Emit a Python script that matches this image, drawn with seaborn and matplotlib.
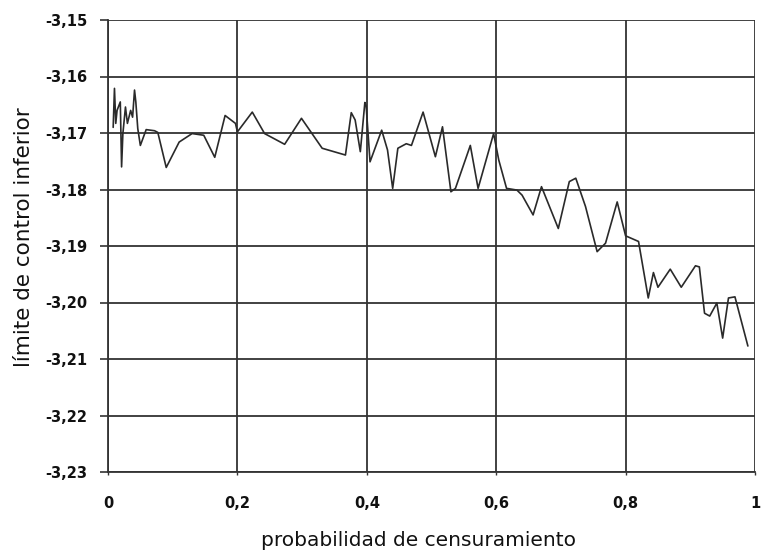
import matplotlib

matplotlib.use("Agg")
import matplotlib.pyplot as plt  # noqa: E402
import pandas as pd  # noqa: E402
import seaborn as sns  # noqa: E402
from matplotlib.ticker import FuncFormatter, MultipleLocator  # noqa: E402

# --- Datos -------------------------------------------------------------------
prob_censura = [
    0.008, 0.010, 0.012, 0.014, 0.019, 0.021, 0.023, 0.027, 0.030, 0.035,
    0.038, 0.041, 0.043, 0.046, 0.050, 0.059, 0.072, 0.077, 0.090, 0.110,
    0.130, 0.148, 0.165, 0.181, 0.197, 0.200, 0.223, 0.242, 0.273, 0.299,
    0.331, 0.367, 0.376, 0.382, 0.390, 0.397, 0.399, 0.405, 0.423, 0.432,
    0.440, 0.448, 0.461, 0.469, 0.487, 0.506, 0.517, 0.530, 0.537, 0.560,
    0.572, 0.596, 0.604, 0.616, 0.632, 0.640, 0.657, 0.670, 0.696, 0.713,
    0.723, 0.738, 0.756, 0.769, 0.787, 0.800, 0.820, 0.835, 0.843, 0.850,
    0.869, 0.886, 0.908, 0.914, 0.922, 0.930, 0.941, 0.950, 0.959, 0.969,
    0.989,
]
limite_inferior = [
    -3.1690, -3.1621, -3.1683, -3.1660, -3.1645, -3.1760, -3.1701, -3.1654,
    -3.1683, -3.1660, -3.1672, -3.1624, -3.1645, -3.1692, -3.1722, -3.1694,
    -3.1696, -3.1699, -3.1761, -3.1716, -3.1701, -3.1704, -3.1743, -3.1669,
    -3.1683, -3.1698, -3.1663, -3.1701, -3.1720, -3.1674, -3.1727, -3.1739,
    -3.1664, -3.1677, -3.1733, -3.1646, -3.1652, -3.1751, -3.1695, -3.1730,
    -3.1798, -3.1727, -3.1719, -3.1722, -3.1663, -3.1742, -3.1689, -3.1804,
    -3.1798, -3.1722, -3.1798, -3.1701, -3.1748, -3.1798, -3.1801, -3.1810,
    -3.1845, -3.1795, -3.1869, -3.1786, -3.1780, -3.1830, -3.1910, -3.1895,
    -3.1822, -3.1882, -3.1892, -3.1992, -3.1947, -3.1973, -3.1941, -3.1973,
    -3.1935, -3.1937, -3.2019, -3.2024, -3.2001, -3.2063, -3.1992, -3.1990,
    -3.2077,
]

X_LABEL = "probabilidad de censuramiento"
Y_LABEL = "límite de control inferior"


def coma_decimal(v, _pos):
    if abs(v) < 1e-9:
        return "0"
    if abs(v - 1) < 1e-9:
        return "1"
    txt = f"{v:.2f}" if v < 0 else f"{v:.1f}"
    return txt.replace(".", ",")


df = pd.DataFrame({"p": prob_censura, "lci": limite_inferior})

sns.set_theme(style="white")
plt.rcParams["font.family"] = ["DejaVu Sans"]

fig = plt.figure(figsize=(7.62, 5.55), dpi=100)
ax = fig.add_axes([108 / 762, 1 - 472 / 555, 647 / 762, 452 / 555])

sns.lineplot(
    data=df, x="p", y="lci", sort=False, estimator=None,
    color="#2a2a2a", linewidth=1.2, ax=ax,
)

ax.set_xlim(0, 1)
ax.set_ylim(-3.23, -3.15)
ax.xaxis.set_major_locator(MultipleLocator(0.2))
ax.yaxis.set_major_locator(MultipleLocator(0.01))
ax.xaxis.set_major_formatter(FuncFormatter(coma_decimal))
ax.yaxis.set_major_formatter(FuncFormatter(coma_decimal))

ax.grid(True, color="#333333", linewidth=1.3)
for side in ["top", "right"]:
    ax.spines[side].set_visible(False)
for side in ["left", "bottom"]:
    ax.spines[side].set_color("#333333")
    ax.spines[side].set_linewidth(1.3)

ax.tick_params(axis="y", left=True, length=6, width=1.2, color="#333333",
               pad=9, labelsize=10.5)
ax.tick_params(axis="x", bottom=True, length=2, width=1.0, color="#333333",
               pad=15, labelsize=10.5)
for lbl in ax.get_xticklabels() + ax.get_yticklabels():
    lbl.set_fontweight("bold")
    lbl.set_color("#111111")

ax.set_xlabel(X_LABEL, fontsize=14.5, color="#111111")
ax.set_ylabel(Y_LABEL, fontsize=15.5, color="#111111")
ax.xaxis.set_label_coords(0.48, -0.13)
ax.yaxis.set_label_coords(-0.115, 0.52)

fig.savefig("out.png", dpi=100)
plt.close(fig)
